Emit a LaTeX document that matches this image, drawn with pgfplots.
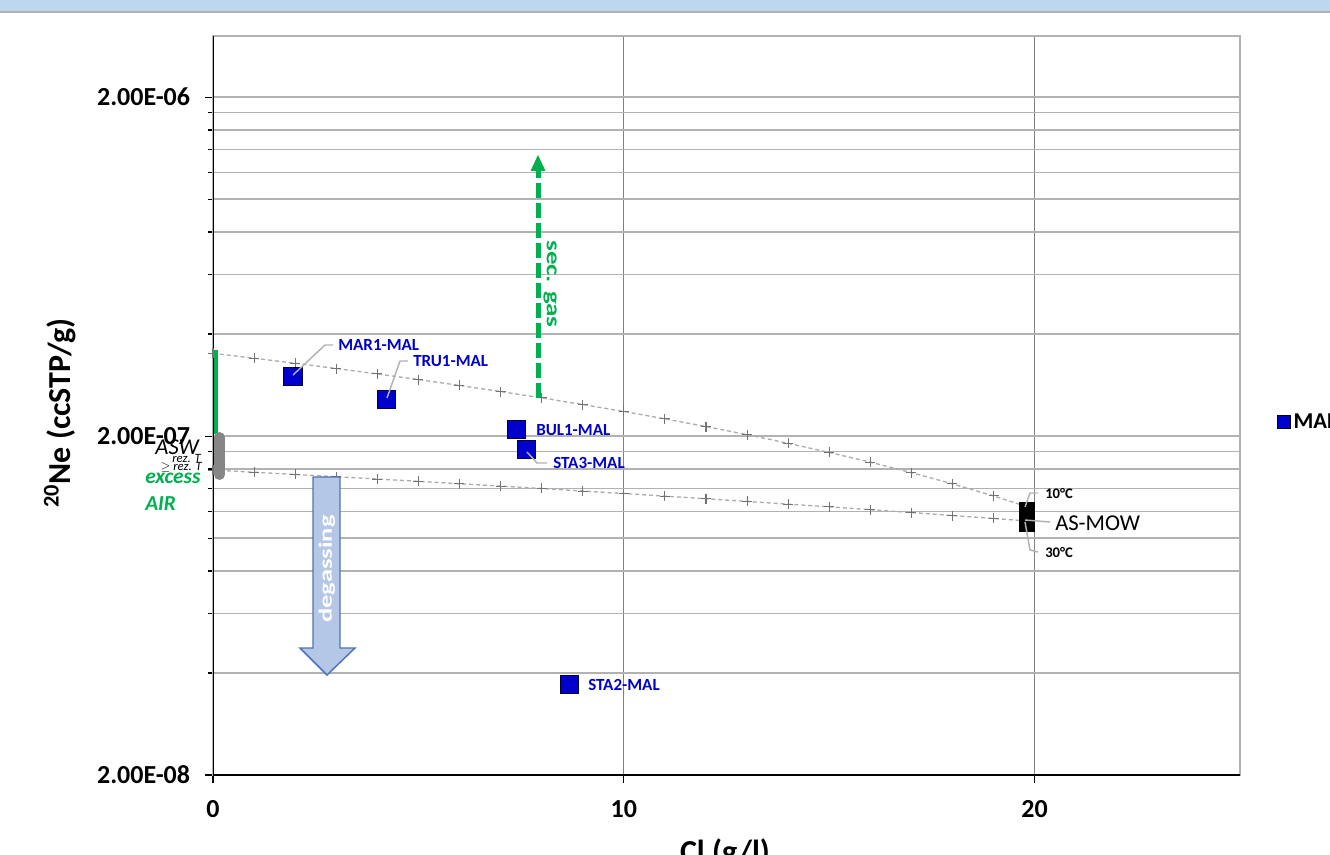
\documentclass[border=0pt]{standalone}
\usepackage{fontspec}
\setmainfont{Carlito}
\usepackage{graphicx}
\usepackage{pgfplots}
\pgfplotsset{compat=1.18}

\definecolor{xlgreen}{RGB}{0,176,80}
\definecolor{ptblue}{RGB}{0,0,204}
\definecolor{lblue}{RGB}{180,199,231}
\definecolor{dblue}{RGB}{79,114,184}
\definecolor{topbar}{RGB}{189,215,238}

\begin{document}
\begin{tikzpicture}
\begin{scope}[x=0.75pt,y=-0.75pt]
\fill[topbar] (0,0) rectangle (1330,11);
\draw[gray!60, line width=1.2pt] (0,12) -- (1330,12);
\end{scope}

\begin{axis}[
  at={(159.75pt,-581.25pt)}, anchor=south west,
  scale only axis, width=770.25pt, height=554.25pt,
  xmin=0, xmax=25, ymin=2e-8, ymax=3.03e-6,
  ymode=log,
  xtick={0,10,20}, xticklabels={0,10,20},
  ytick={2e-8,2e-7,2e-6}, yticklabels={2.00E-08,2.00E-07,2.00E-06},
  minor ytick={4e-8,6e-8,8e-8,1e-7,1.2e-7,1.4e-7,1.6e-7,1.8e-7,4e-7,6e-7,8e-7,1e-6,1.2e-6,1.4e-6,1.6e-6,1.8e-6},
  grid=both,
  major x grid style={gray!100, line width=0.9pt},
  major y grid style={gray!60, line width=1.1pt},
  minor y grid style={gray!60, line width=1.1pt},
  tick align=outside, tick pos=left,
  major tick length=6pt, minor tick length=3.75pt,
  tick style={black, line width=0.9pt},
  axis line style={gray!60, line width=0.9pt},
  ticklabel style={font=\bfseries\fontsize{19.5}{21}\selectfont, inner sep=0pt},
  xticklabel style={anchor=north, yshift=-12.5pt},
  yticklabel style={anchor=east, xshift=-11pt},
  xlabel={Cl (g/l)}, ylabel={\textsuperscript{20}Ne (ccSTP/g)},
  every axis x label/.style={at={(rel axis cs:0.4985,-0.1177)},anchor=base,
    font=\bfseries\fontsize{24}{28}\selectfont},
  every axis y label/.style={at={(rel axis cs:-0.149,0.4899)},rotate=90,anchor=center,
    font=\bfseries\fontsize{24}{28}\selectfont},
  legend style={at={(rel axis cs:1.036,0.4777)}, anchor=west, draw=none, fill=none,
    inner sep=0pt, font=\bfseries\fontsize{17}{19}\selectfont},
  legend cell align=left,
  legend image code/.code={\draw[fill=ptblue,draw=black,line width=0.4pt] (-4.9pt,-4.9pt) rectangle (4.9pt,4.9pt);},
]
% mixing line 10 C (upper)
\addplot[gray!65, line width=1pt, dash pattern=on 3pt off 2.2pt, mark=+, mark size=3.75pt,
  mark options={solid, gray!90!black, line width=0.8pt}, forget plot] coordinates {
(0,3.510e-7) (1,3.395e-7) (2,3.281e-7) (3,3.166e-7) (4,3.051e-7) (5,2.937e-7)
(6,2.822e-7) (7,2.707e-7) (8,2.593e-7) (9,2.478e-7) (10,2.364e-7) (11,2.249e-7)
(12,2.134e-7) (13,2.020e-7) (14,1.905e-7) (15,1.790e-7) (16,1.676e-7) (17,1.561e-7)
(18,1.446e-7) (19,1.332e-7) (19.8,1.240e-7)};
% mixing line 30 C (lower)
\addplot[gray!65, line width=1pt, dash pattern=on 3pt off 2.2pt, mark=+, mark size=3.75pt,
  mark options={solid, gray!90!black, line width=0.8pt}, forget plot] coordinates {
(0,1.588e-7) (1,1.565e-7) (2,1.541e-7) (3,1.518e-7) (4,1.494e-7) (5,1.471e-7)
(6,1.447e-7) (7,1.424e-7) (8,1.401e-7) (9,1.377e-7) (10,1.354e-7) (11,1.330e-7)
(12,1.307e-7) (13,1.283e-7) (14,1.260e-7) (15,1.237e-7) (16,1.213e-7) (17,1.190e-7)
(18,1.166e-7) (19,1.143e-7) (19.8,1.124e-7)};
% AS-MOW
\addplot[only marks, mark=square*, mark size=5.6pt, mark options={fill=black, draw=black}, forget plot]
  coordinates {(19.82,1.21e-7) (19.82,1.10e-7)};
% samples
\addplot[only marks, mark=square*, mark size=6.9pt,
  mark options={fill=ptblue, draw=black!80!blue, line width=0.5pt}]
  coordinates {(1.94,3.006e-7) (4.22,2.57e-7) (7.38,2.09e-7) (7.63,1.83e-7) (8.68,3.71e-8)};
\addlegendentry{MAL}
\draw[black, line width=1.2pt] (rel axis cs:0,1) -- (rel axis cs:0,0) -- (rel axis cs:1,0);
\end{axis}

\begin{scope}[x=0.75pt,y=-0.75pt]
% excess air bar and ASW range
\draw[xlgreen, line width=3pt] (216,350) -- (216,434);
\draw[gray!95, line width=8.25pt, line cap=round] (219.5,437.5) -- (219.5,474.5);

% leader lines
\begin{scope}[gray!60, line width=1.1pt]
\draw (293,375) -- (325,345) -- (333,345);
\draw (387,398) -- (400,361) -- (408,361);
\draw (527,452) -- (537,463) -- (547,463);
\draw (1025,507) -- (1030,493) -- (1038,493);
\draw (1025,520) -- (1050,522);
\draw (1025,522) -- (1030,550) -- (1038,552);
\end{scope}

% labels
\begin{scope}[every node/.style={anchor=west, inner sep=0pt, text=ptblue, font=\bfseries\fontsize{12.75}{14}\selectfont}]
\node at (338,345) {MAR1-MAL};
\node at (413,361) {TRU1-MAL};
\node at (536,430) {BUL1-MAL};
\node at (553,463) {STA3-MAL};
\node at (588,685) {STA2-MAL};
\end{scope}
\node[anchor=west, inner sep=0pt, font=\bfseries\fontsize{11}{12}\selectfont] at (1045,493) {10°C};
\node[anchor=west, inner sep=0pt, font=\bfseries\fontsize{11}{12}\selectfont] at (1045,552) {30°C};
\node[anchor=west, inner sep=0pt, font=\fontsize{17}{19}\selectfont] at (1055,523) {AS-MOW};

% ASW / excess air text
\node[anchor=east, inner sep=0pt, font=\itshape\fontsize{17}{19}\selectfont] at (199,447) {ASW};
\node[anchor=east, inner sep=0pt, font=\itshape\fontsize{9.5}{10}\selectfont] at (201,458) {rez. T};
\node[anchor=east, inner sep=0pt, font=\itshape\fontsize{9.5}{10}\selectfont] at (202,467) {$\geq$ rez. T};
\node[anchor=west, inner sep=0pt, text=xlgreen, font=\bfseries\itshape\fontsize{16}{18}\selectfont] at (145,478) {excess};
\node[anchor=west, inner sep=0pt, text=xlgreen, font=\bfseries\itshape\fontsize{16}{18}\selectfont] at (145,504) {AIR};

% secondary gas arrow
\draw[xlgreen, line width=3.75pt, dash pattern=on 11pt off 4pt] (538,398) -- (538,170);
\fill[xlgreen] (530.5,171) -- (545.5,171) -- (538,155) -- cycle;
\node[rotate=-90, text=xlgreen, font=\bfseries\fontsize{15}{17}\selectfont] at (550,284) {\scalebox{1.35}[1]{sec. gas}};

% degassing arrow
\filldraw[fill=lblue, draw=dblue, line width=1.1pt]
  (313,477) -- (340,477) -- (340,648) -- (355,648) -- (327,675) -- (300,648) -- (313,648) -- cycle;
\node[rotate=90, text=white, font=\bfseries\fontsize{14}{16}\selectfont] at (327,569) {\scalebox{1.42}[1]{degassing}};

\pgfresetboundingbox
\useasboundingbox (0,0) rectangle (1330,855);
\end{scope}
\end{tikzpicture}
\end{document}
